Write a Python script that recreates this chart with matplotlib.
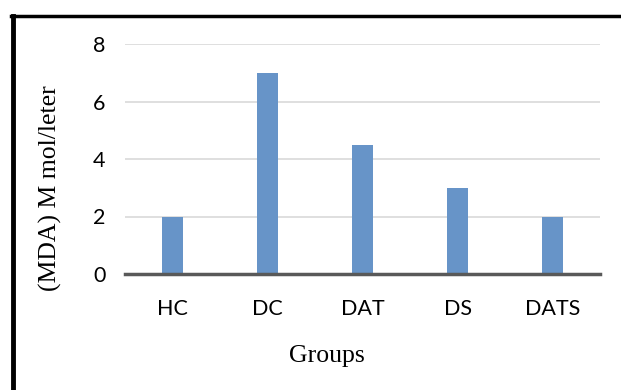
import matplotlib
matplotlib.use("Agg")

import numpy as np
import matplotlib.pyplot as plt
from matplotlib.lines import Line2D

# Data
groups = ["HC", "DC", "DAT", "DS", "DATS"]
mda = [2, 7, 4.5, 3, 2]
yticks = [0, 2, 4, 6, 8]

fig = plt.figure(figsize=(6.21, 3.9), dpi=100)
ax = fig.add_axes([125 / 621, 1 - 274 / 390, 475 / 621, (274 - 44) / 390])

x = np.arange(len(groups))
ax.bar(x, mda, width=0.23, color="#6794c8", zorder=3)

ax.set_xlim(-0.5, len(groups) - 0.5)
ax.set_ylim(0, 8)
ax.set_yticks(yticks)
ax.set_xticks(x)
ax.set_xticklabels(groups, fontfamily="Lato", fontsize=15.5)
ax.set_yticklabels([str(t) for t in yticks], fontfamily="Lato", fontsize=15.5)
ax.tick_params(length=0, pad=14)
ax.tick_params(axis="x", pad=18)

ax.grid(axis="y", color="#d9d9d9", linewidth=1.2, zorder=0)
for side in ["top", "right", "left"]:
    ax.spines[side].set_visible(False)
ax.spines["bottom"].set_color("#595959")
ax.spines["bottom"].set_linewidth(2.5)
ax.spines["bottom"].set_zorder(4)

# Axis titles
fig.text(50 / 621, 1 - 188 / 390, "(MDA) M mol/leter", rotation=90,
         ha="center", va="center", fontfamily="Liberation Serif", fontsize=18.5)
fig.text(327 / 621, 1 - 356 / 390, "Groups", ha="center", va="center",
         fontfamily="Liberation Serif", fontsize=18.5)

# Frame on left and top edges
fig.add_artist(Line2D([12.5 / 621, 12.5 / 621], [0, 1 - 16 / 390],
                      transform=fig.transFigure, color="black", linewidth=3.5))
fig.add_artist(Line2D([11 / 621, 1], [1 - 16 / 390, 1 - 16 / 390],
                      transform=fig.transFigure, color="black", linewidth=2.5))

fig.savefig("out.png", dpi=100)
